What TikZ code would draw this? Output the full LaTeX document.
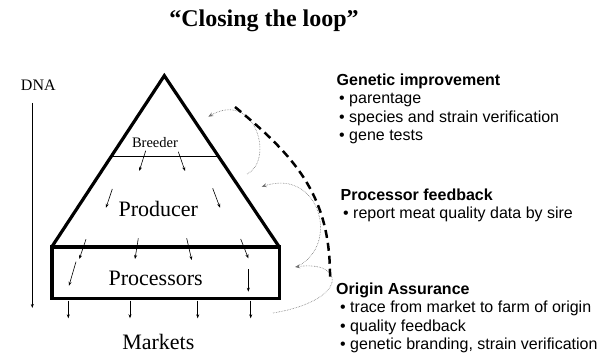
\documentclass[tikz,border=0pt]{standalone}
\usepackage{fontspec}
\setmainfont{Liberation Serif}
\newfontfamily\arial{Liberation Sans}
\usetikzlibrary{arrows.meta,calc}

\tikzset{
  flow/.style={-{Stealth[length=4pt,width=3pt]},line width=0.6pt},
  feedback/.style={-{Stealth[length=5pt,width=4pt]},densely dotted,line width=0.6pt,black!55},
  level/.style={inner sep=0pt,anchor=base},
  info/.style={inner sep=0pt,anchor=base west,align=left,font=\arial\fontsize{16}{18.5}\selectfont},
}

\begin{document}
\begin{tikzpicture}[x=1pt,y=-1pt]
\useasboundingbox (0,0) rectangle (601,358);

\node[level,font=\bfseries\fontsize{24}{28}\selectfont] (title) at (264,27) {“Closing the loop”};

% pyramid and processor box
\coordinate (apex) at (164.3,75.7);
\coordinate (bl) at (51.7,247);
\coordinate (br) at (279.3,247);
\draw[line width=3.2pt,line join=miter] (bl) -- (apex) -- (br);
\draw[line width=3.6pt] (bl) rectangle (279.3,298.3);
\draw[line width=1.3pt] ($(apex)!0.47!(bl)$) -- ($(apex)!0.47!(br)$);

\node[level,font=\fontsize{14.5}{16}\selectfont] (breeder) at (155,147.3) {Breeder};
\node[level,font=\fontsize{22}{24}\selectfont] (producer) at (158.3,216) {Producer};
\node[level,font=\fontsize{22}{24}\selectfont] (processors) at (155.7,285) {Processors};
\node[level,font=\fontsize{22}{24}\selectfont] (markets) at (158.3,349.3) {Markets};

\node[level,font=\fontsize{16}{18}\selectfont] (dna) at (38.3,91) {DNA};
\coordinate (dnatop) at (32.3,103);
\coordinate (dnabot) at (32.3,308);
\draw[flow,line width=0.7pt] (dnatop) -- (dnabot);

% genes passed down the chain
\foreach \xa/\ya/\xb/\yb in {145.7/150.7/139.3/171, 178.3/151.7/185/171,
    112.3/189/106/207.7, 212.7/188.3/220/207.7,
    86/239.3/79.3/259, 138.3/238.3/135/259, 186.7/238.3/191.7/260, 240.7/239/248.3/258.3,
    76/261.7/69/285.7, 248.3/269.3/248.3/291.7}
  \draw[flow] (\xa,\ya) -- (\xb,\yb);
\foreach \x in {68.3,130,197.7,250.7}
  \draw[flow] (\x,300.5) -- (\x,318.3);

% feedback loops
\coordinate (mkt) at (273,313);
\coordinate (proc) at (295,267);
\coordinate (prodout) at (298,266);
\coordinate (prodin) at (261.7,186.7);
\coordinate (brdout) at (247,174);
\coordinate (brdin) at (208.3,116.7);
\draw[feedback] (mkt) .. controls (350,300) and (345,260) .. (proc);
\draw[feedback] (prodout) .. controls (340,245) and (320,168) .. (prodin);
\draw[feedback] (brdout) .. controls (275,160) and (255,90) .. (brdin);

\coordinate (loopstart) at (235,107);
\coordinate (loopend) at (330,280);
\draw[line width=2.5pt,dash pattern=on 8pt off 5pt] (loopstart) .. controls (300,160) and (331,200) .. (loopend);

% base west of a multi-line node sits on its last line
\node[info] (genetic) at (336.5,141) {\textbf{Genetic improvement}\\
  \hspace{2.5pt}• parentage\\
  \hspace{2.5pt}• species and strain verification\\
  \hspace{2.5pt}• gene tests};
\node[info] (feedback) at (340.5,218.5) {\textbf{Processor feedback}\\
  \hspace{2.5pt}• report meat quality data by sire};
\node[info] (origin) at (336,349.5) {\textbf{Origin Assurance}\\
  \hspace{4pt}• trace from market to farm of origin\\
  \hspace{4pt}• quality feedback\\
  \hspace{4pt}• genetic branding, strain verification};
\end{tikzpicture}
\end{document}
